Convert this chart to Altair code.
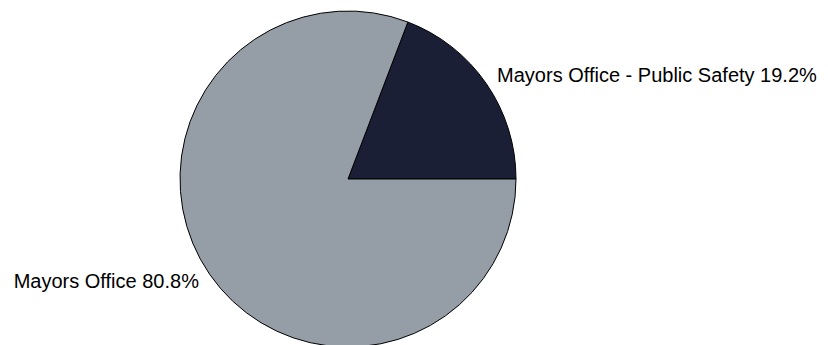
import altair as alt
import pandas as pd
import math

categories = ["Mayors Office - Public Safety", "Mayors Office"]
shares = [19.2, 80.8]
colors = ["#1b1f36", "#959ea7"]

df = pd.DataFrame({
    "category": categories,
    "share": shares,
    "idx": list(range(len(categories))),
    "label": [f"{c} {v}%" for c, v in zip(categories, shares)],
})

start = 2 * math.pi * (0.25 - shares[0] / 100)
theta_scale = alt.Scale(range=[start, start + 2 * math.pi])

base = alt.Chart(df).encode(
    theta=alt.Theta("share:Q", stack=True, scale=theta_scale),
    order=alt.Order("idx:Q"),
)

arcs = base.mark_arc(radius=168, stroke="black", strokeWidth=1).encode(
    color=alt.Color("category:N", scale=alt.Scale(domain=categories, range=colors), legend=None)
)

font = "Liberation Sans"
left_lbl = base.transform_calculate(
    t="datum.share < 50 ? datum.label : ''"
).mark_text(radius=181, align="left", baseline="middle", font=font, fontSize=20, color="black").encode(
    text="t:N"
)
right_lbl = base.transform_calculate(
    t="datum.share >= 50 ? datum.label : ''"
).mark_text(radius=181, align="right", baseline="middle", font=font, fontSize=20, color="black").encode(
    text="t:N"
)

chart = alt.layer(arcs, left_lbl, right_lbl).properties(
    width=696, height=332,
    padding={"left": 0, "top": 13, "right": 132, "bottom": 0},
    autosize=alt.AutoSizeParams(type="none"),
    background="white",
).configure_view(stroke=None)

chart.save("out.html", embed_options={"renderer": "svg", "actions": False})
